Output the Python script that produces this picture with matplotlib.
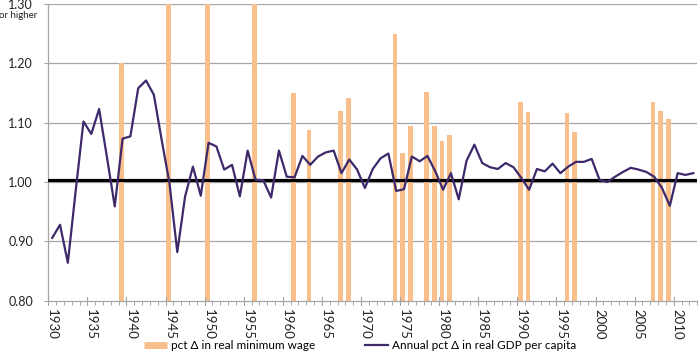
import numpy as np
import matplotlib.pyplot as plt
from matplotlib.lines import Line2D
from matplotlib.ticker import FixedLocator

plt.rcParams['font.family'] = ['Lato', 'DejaVu Sans']

# годы 1930-2012
years = np.arange(1930, 2013)

# годовой рост реального ВВП на душу (отношение к прошлому году)
gdp = [0.906, 0.928, 0.864, 0.985, 1.102, 1.081, 1.123, 1.042, 0.959, 1.073,
       1.077, 1.158, 1.171, 1.147, 1.071, 0.998, 0.882, 0.976, 1.026, 0.977,
       1.066, 1.060, 1.021, 1.029, 0.976, 1.053, 1.004, 1.003, 0.974, 1.053,
       1.009, 1.008, 1.044, 1.029, 1.043, 1.050, 1.053, 1.015, 1.038, 1.021,
       0.990, 1.022, 1.040, 1.048, 0.985, 0.988, 1.043, 1.035, 1.044, 1.018,
       0.987, 1.015, 0.971, 1.036, 1.063, 1.032, 1.025, 1.022, 1.032, 1.025,
       1.007, 0.987, 1.022, 1.018, 1.031, 1.015, 1.026, 1.034, 1.034, 1.039,
       1.004, 1.000, 1.009, 1.017, 1.024, 1.021, 1.017, 1.009, 0.990, 0.960,
       1.015, 1.012, 1.015]

# рост реальной минимальной зарплаты (только годы повышения), 1.30 = "or higher"
mw_years = [1939, 1945, 1950, 1956, 1961, 1963, 1967, 1968, 1974, 1975, 1976,
            1978, 1979, 1980, 1981, 1990, 1991, 1996, 1997, 2007, 2008, 2009]
mw_vals = [1.20, 1.30, 1.30, 1.30, 1.15, 1.087, 1.119, 1.142, 1.25, 1.049, 1.095,
           1.152, 1.094, 1.069, 1.080, 1.134, 1.118, 1.117, 1.084, 1.135, 1.119, 1.107]

orange = '#F9BF8C'
purple = '#3E2A6B'
grid_c = '#A6A6A6'

fig = plt.figure(figsize=(7, 3.56), dpi=100)
ax = fig.add_axes([0.069, 0.155, 0.927, 0.834])

base = 0.80
ax.bar(np.array(mw_years) - 0.15, np.array(mw_vals) - base, bottom=base,
       width=0.62, color=orange, zorder=2)
ax.axhline(1.003, color='black', lw=2.3, zorder=3)
ax.plot(years, gdp, color=purple, lw=1.6, zorder=4)

ax.set_xlim(1929.5, 2012.5)
ax.set_ylim(0.80, 1.30)

# сетка
for y in [0.9, 1.0, 1.1, 1.2, 1.3]:
    ax.axhline(y, color=grid_c, lw=0.9, zorder=1)

yt = [0.8, 0.9, 1.0, 1.1, 1.2, 1.3]
ax.set_yticks(yt)
ax.set_yticklabels(['%.2f' % v for v in yt], fontsize=9, color='#222222')
ax.tick_params(axis='y', length=3, width=0.8, color=grid_c, pad=8)

# подписи по центрам, засечки на границах годов
lab_years = list(range(1930, 2011, 5))
ax.set_xticks(lab_years)
ax.set_xticklabels([str(y) for y in lab_years], rotation=270, fontsize=9.5,
                   color='#222222')
ax.tick_params(axis='x', which='major', length=0, pad=6)
ax.xaxis.set_minor_locator(FixedLocator(np.arange(1929.5, 2012.6, 1)))
ax.tick_params(axis='x', which='minor', length=3, width=0.7, color=grid_c)
for b in np.arange(1929.5, 2012.6, 5):
    ax.plot([b, b], [0.793, 0.807], color=grid_c, lw=0.8, clip_on=False, zorder=5)

for s in ['top', 'right']:
    ax.spines[s].set_visible(False)
for s in ['left', 'bottom']:
    ax.spines[s].set_color(grid_c)
    ax.spines[s].set_linewidth(0.9)

fig.text(37 / 700, 1 - 15 / 356, 'or higher', fontsize=7, ha='right', va='center',
         color='#222222')

handles = [Line2D([], [], color=orange, lw=5, solid_capstyle='butt'),
           Line2D([], [], color=purple, lw=1.6)]
fig.legend(handles, ['pct \u0394 in real minimum wage',
                     'Annual pct \u0394 in real GDP per capita'],
           loc='center', bbox_to_anchor=(0.514, 0.029), ncol=2, frameon=False,
           fontsize=8.5, handlelength=2.0, handletextpad=0.3, columnspacing=4.2)

fig.savefig('out.png', dpi=100)
